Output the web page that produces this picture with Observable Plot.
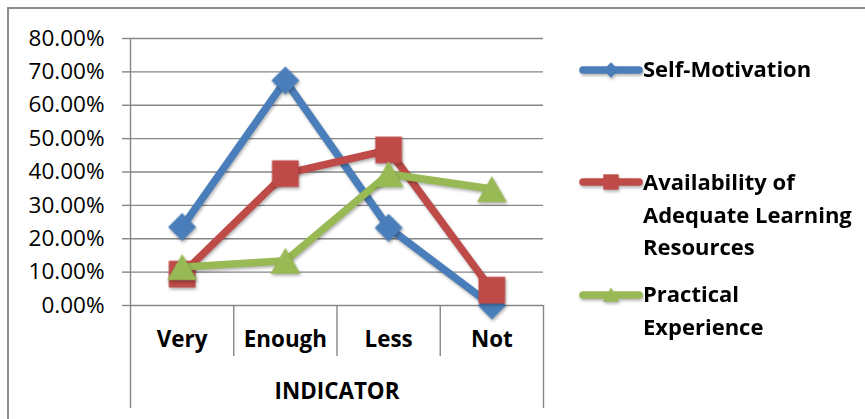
<!DOCTYPE html>
<html><head><meta charset="utf-8">
<script src="https://cdn.jsdelivr.net/npm/d3@7"></script>
<script src="https://cdn.jsdelivr.net/npm/@observablehq/plot@0.6"></script>
<style>
body{margin:0;background:#fff;}
#wrap{position:relative;width:865px;height:419px;font-family:"Open Sans",Lato,sans-serif;overflow:hidden;}
#frame{position:absolute;left:7px;top:7px;right:-4px;bottom:-4px;border-left:2px solid #8c8c8c;border-top:2px solid #8c8c8c;pointer-events:none;}
.sw{position:absolute;left:578px;width:66px;height:30px;}
.lt{position:absolute;left:643px;font-weight:bold;font-size:22px;line-height:32.5px;color:#000;white-space:nowrap;}
svg{display:block;}
.shadow{filter:drop-shadow(1.5px 2px 1.5px rgba(0,0,0,0.3));}
</style></head><body><div id="wrap"><div id="frame"></div></div>
<script>
const categories = ["Very", "Enough", "Less", "Not"];
const seriesNames = ["Self-Motivation", "Availability of Adequate Learning Resources", "Practical Experience"];
const selfMotivation = [0.235, 0.674, 0.233, 0.0];
const availability = [0.094, 0.395, 0.466, 0.046];
const practical = [0.115, 0.134, 0.394, 0.349];
const yTicks = [0, 0.1, 0.2, 0.3, 0.4, 0.5, 0.6, 0.7, 0.8];
const xAxisTitle = "INDICATOR";
const legendLines = [["Self-Motivation"], ["Availability of", "Adequate Learning", "Resources"], ["Practical", "Experience"]];
const colors = ["#4A7EBB", "#BE4B48", "#98B954"];
const symbols = ["diamond2", "square2", "triangle2"];

const seriesValues = [selfMotivation, availability, practical];
const rows = seriesNames.flatMap((s, si) => categories.map((c, i) => ({series: s, si, i, category: c, value: seriesValues[si][i]})));

const gray = "#868686";
const font = "'Open Sans', Lato, sans-serif";
const markerR = [12.6, 17, 14.3];
const markerDy = [0, 0, 4.3];

const seriesMarks = seriesNames.flatMap((s, si) => {
  const d = rows.filter(r => r.si === si);
  return [
    Plot.line(d, {x: "i", y: "value", stroke: colors[si], strokeWidth: 7.5, strokeLinejoin: "round", strokeLinecap: "round", className: "shadow"}),
    Plot.dot(d, {x: "i", y: "value", symbol: symbols[si], r: markerR[si], fill: colors[si], stroke: "none", dy: markerDy[si], className: "shadow"})
  ];
});

const chart = Plot.plot({
  width: 865,
  height: 419,
  marginLeft: 130,
  marginRight: 322,
  marginTop: 38,
  marginBottom: 114,
  style: {fontFamily: font, background: "transparent", overflow: "visible"},
  x: {type: "linear", domain: [-0.5, categories.length - 0.5], axis: null},
  y: {domain: [0, 0.8], axis: null},
  marks: [
    Plot.gridY(yTicks, {stroke: gray, strokeOpacity: 1, strokeWidth: 1.4}),
    Plot.axisY(yTicks, {tickSize: 8, tickPadding: 18, tickFormat: d3.format(".2%"), fontSize: 22.5, stroke: gray, strokeWidth: 1.4, fill: "#000", label: null}),
    Plot.ruleX([-0.5], {stroke: gray, strokeWidth: 1.4}),
    Plot.axisX(d3.range(1, categories.length).map(i => i - 0.5), {tickSize: 51, tickFormat: () => "", stroke: gray, strokeWidth: 1.4, label: null}),
    Plot.axisX([-0.5, categories.length - 0.5], {tickSize: 103, tickFormat: () => "", stroke: gray, strokeWidth: 1.4, label: null}),
    Plot.text(categories, {x: (d, i) => i, text: d => d, frameAnchor: "bottom", dy: 34, lineAnchor: "middle", fontSize: 22.4, fontWeight: "bold", fill: "#000"}),
    Plot.text([xAxisTitle], {text: d => d, frameAnchor: "bottom", dy: 86, lineAnchor: "middle", fontSize: 22.4, fontWeight: "bold", fill: "#000"}),
    ...seriesMarks
  ]
});
const wrap = document.getElementById("wrap");
wrap.insertBefore(chart, wrap.firstChild);

// Legend (HTML, beside the plot area)
const swatchY = [70, 182, 295];
const firstBaseline = [76.7, 190, 301.7];
seriesNames.forEach((s, si) => {
  const sw = document.createElement("div");
  sw.className = "sw";
  sw.style.top = (swatchY[si] - 15) + "px";
  const svg = d3.create("svg").attr("width", 66).attr("height", 30);
  const g = svg.append("g").attr("class", "shadow");
  g.append("line").attr("x1", 5).attr("x2", 61).attr("y1", 15).attr("y2", 15)
    .attr("stroke", colors[si]).attr("stroke-width", 7.5).attr("stroke-linecap", "round");
  const sym = {diamond2: d3.symbolDiamond2, square2: d3.symbolSquare2, triangle2: d3.symbolTriangle2}[symbols[si]];
  const sizes = [150, 300, 190];
  g.append("path").attr("d", d3.symbol(sym, sizes[si])()).attr("transform", `translate(33,${15 + (si === 2 ? 2 : 0)})`).attr("fill", colors[si]);
  sw.appendChild(svg.node());
  wrap.appendChild(sw);
  const t = document.createElement("div");
  t.className = "lt";
  t.style.top = (firstBaseline[si] - 24.6) + "px";
  t.innerHTML = legendLines[si].join("<br>");
  wrap.appendChild(t);
});
</script>
</body></html>
